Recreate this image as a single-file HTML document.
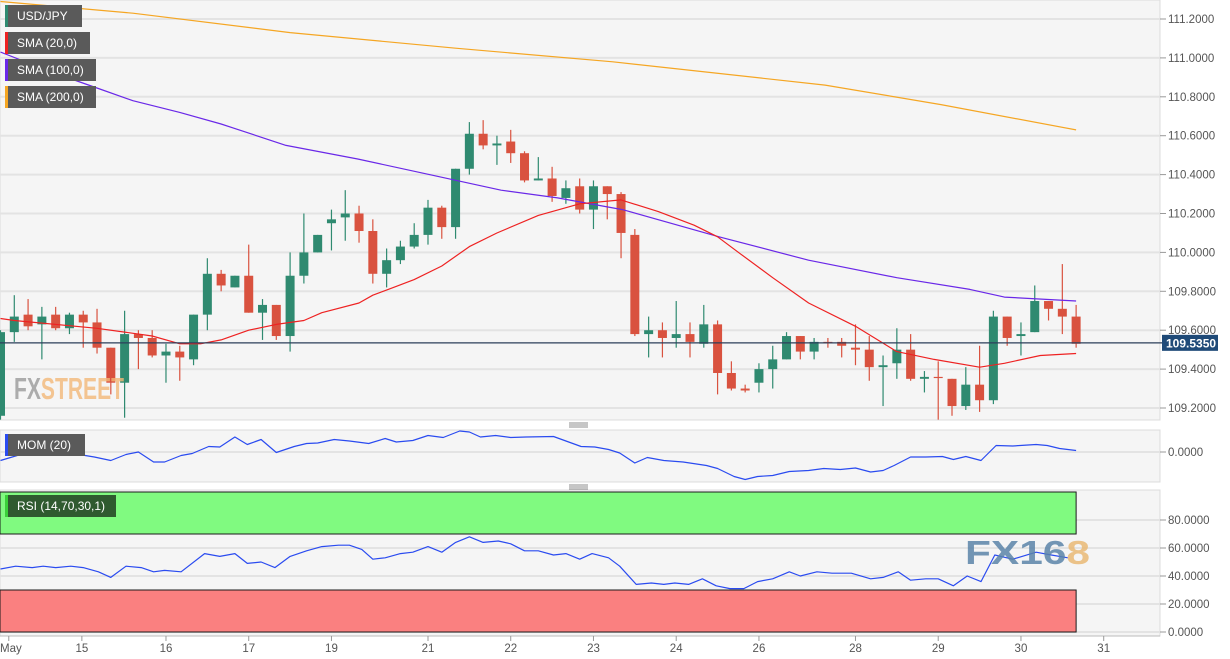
<!DOCTYPE html>
<html><head><meta charset="utf-8">
<style>
html,body{margin:0;padding:0;background:#fff;}
svg{display:block;font-family:"Liberation Sans",Arial,sans-serif;}
</style></head>
<body>
<svg id="chart" width="1230" height="659" viewBox="0 0 1230 659" xmlns="http://www.w3.org/2000/svg">
<rect x="0" y="0" width="1230" height="659" fill="#ffffff"/>
<rect x="0" y="0" width="1160" height="420" fill="#f5f5f5" stroke="#dcdcdc"/>
<rect x="0" y="430" width="1160" height="52" fill="#f5f5f5" stroke="#dcdcdc"/>
<rect x="0" y="490" width="1160" height="146" fill="#f5f5f5" stroke="#dcdcdc"/>
<g id="grid"></g>
<g id="marks"></g>
<g>
<text x="14" y="399" font-size="31" font-weight="bold" fill="#9a9a9a" fill-opacity="0.8" textLength="110" lengthAdjust="spacingAndGlyphs">FX<tspan fill="#f2b878">STREET</tspan></text>
</g>
<g>
<text x="965" y="564" font-size="33" font-weight="bold" fill="#5b84a8" fill-opacity="0.85" textLength="125" lengthAdjust="spacingAndGlyphs">FX16<tspan fill="#e9b874">8</tspan></text>
</g>
<g id="legend"></g>
<g id="axes"></g>
</svg>
<script>
// ---------- data ----------
const candleOpen  = [109.16,109.59,109.68,109.63,109.68,109.61,109.68,109.64,109.51,109.33,109.58,109.56,109.47,109.49,109.45,109.68,109.89,109.82,109.88,109.69,109.73,109.57,109.88,110.00,110.15,110.18,110.20,110.11,109.89,109.96,110.03,110.09,110.23,110.13,110.43,110.61,110.55,110.57,110.51,110.37,110.38,110.28,110.34,110.22,110.34,110.30,110.09,109.58,109.60,109.56,109.58,109.53,109.63,109.38,109.30,109.33,109.40,109.45,109.57,109.49,109.54,109.54,109.51,109.50,109.41,109.43,109.50,109.35,109.36,109.35,109.21,109.32,109.24,109.67,109.57,109.59,109.75,109.71,109.67];
const candleHigh  = [109.60,109.78,109.76,109.72,109.72,109.69,109.70,109.71,109.51,109.70,109.60,109.60,109.53,109.52,109.68,109.97,109.91,109.88,110.04,109.76,109.73,110.00,110.20,110.09,110.22,110.32,110.24,110.17,110.02,110.06,110.15,110.27,110.24,110.43,110.67,110.68,110.60,110.63,110.52,110.49,110.44,110.37,110.38,110.37,110.34,110.31,110.12,109.67,109.64,109.75,109.64,109.73,109.65,109.44,109.32,109.43,109.52,109.59,109.57,109.56,109.56,109.56,109.63,109.57,109.47,109.61,109.58,109.39,109.44,109.35,109.41,109.52,109.70,109.67,109.64,109.83,109.75,109.94,109.73];
const candleLow   = [109.14,109.54,109.60,109.45,109.60,109.58,109.51,109.48,109.27,109.15,109.40,109.46,109.33,109.34,109.42,109.60,109.80,109.82,109.69,109.55,109.55,109.49,109.84,110.00,110.01,110.06,110.05,109.84,109.82,109.94,110.02,110.04,110.07,110.07,110.40,110.53,110.45,110.46,110.36,110.37,110.26,110.25,110.20,110.12,110.17,109.97,109.57,109.46,109.46,109.51,109.46,109.51,109.27,109.29,109.28,109.28,109.30,109.45,109.45,109.45,109.51,109.46,109.42,109.34,109.21,109.35,109.34,109.28,109.14,109.16,109.19,109.18,109.22,109.52,109.47,109.59,109.65,109.58,109.51];
const candleClose = [109.59,109.67,109.62,109.67,109.61,109.68,109.64,109.51,109.33,109.58,109.56,109.47,109.49,109.46,109.68,109.89,109.83,109.88,109.69,109.73,109.57,109.88,110.00,110.09,110.17,110.20,110.11,109.89,109.96,110.03,110.09,110.23,110.13,110.43,110.61,110.55,110.56,110.51,110.37,110.38,110.29,110.33,110.22,110.34,110.30,110.10,109.58,109.60,109.56,109.58,109.54,109.63,109.38,109.30,109.29,109.40,109.45,109.57,109.49,109.54,109.535,109.52,109.50,109.41,109.42,109.50,109.35,109.36,109.355,109.21,109.32,109.24,109.67,109.56,109.58,109.75,109.71,109.67,109.53];

const sma20Idx = [0,1,7,9,11,13,14.5,16,18,20,22,23.3,26,27,28.5,30,32,34,36,39,42,45,47.7,50.3,52,53.7,56,58.6,62,65,67.7,71,72.8,75.4,78];
const sma20Val = [109.66,109.65,109.61,109.59,109.57,109.53,109.53,109.55,109.60,109.63,109.65,109.69,109.74,109.78,109.82,109.86,109.93,110.03,110.10,110.19,110.25,110.27,110.21,110.14,110.08,109.99,109.87,109.74,109.62,109.49,109.45,109.41,109.43,109.47,109.48];
const sma100Idx = [0,3.6,7.2,9.6,13,16,20.7,25.9,31.1,36.3,40.4,45.1,52.1,58.6,65,70.3,72.8,78];
const sma100Val = [111.03,110.93,110.84,110.78,110.72,110.66,110.55,110.48,110.40,110.32,110.28,110.22,110.08,109.96,109.87,109.81,109.77,109.75];
const sma200Idx = [0,9.6,21,33,44.4,59.8,68.2,78];
const sma200Val = [111.29,111.23,111.13,111.05,110.98,110.86,110.76,110.63];

const momIdx = [0,1.7,2.3,3.4,4.6,5.7,6.8,8.0,9.1,10.0,11.1,11.9,13.1,13.9,15.1,15.9,17.0,17.9,18.9,20.0,21.3,22.2,23.0,24.2,25.3,26.7,27.9,28.7,29.9,31.0,32.1,33.3,34.0,34.8,35.9,37.0,38.1,40.1,42.1,43.1,44.1,44.9,46.0,46.9,48.1,49.5,51.2,52.0,53.2,54.0,54.9,56.0,57.2,58.6,59.7,60.9,62.0,63.1,64.0,64.8,66.0,67.1,68.3,69.1,70.0,71.1,72.2,73.4,75.1,75.9,76.8,78.0];
const momVal = [-0.17,-0.03,0,-0.02,0.03,-0.05,-0.10,-0.17,-0.05,0,-0.20,-0.20,-0.07,-0.03,0.11,0.10,0.30,0.15,0.25,-0.01,0.11,0.17,0.18,0.25,0.22,0.17,0.27,0.20,0.23,0.33,0.29,0.42,0.40,0.30,0.33,0.29,0.30,0.31,0.11,0.10,0.05,-0.02,-0.22,-0.11,-0.17,-0.20,-0.27,-0.33,-0.49,-0.55,-0.49,-0.47,-0.39,-0.37,-0.33,-0.35,-0.32,-0.40,-0.37,-0.27,-0.10,-0.10,-0.09,-0.15,-0.09,-0.17,0.13,0.12,0.15,0.13,0.07,0.03];

const rsiIdx = [0,1.1,2.3,3.1,4.0,5.1,6.0,7.1,8.0,9.1,10.2,11.1,11.9,13.1,14.8,15.9,17.0,17.9,18.9,19.9,21.0,22.2,23.3,24.5,25.3,26.2,27.0,27.9,29.0,29.9,31.0,32.0,33.0,34.0,35.0,36.1,37.0,38.0,39.0,40.1,41.0,42.0,42.9,44.1,44.9,46.1,47.2,48.1,48.9,49.9,50.9,51.9,52.9,53.9,54.9,56.0,57.2,58.0,59.2,60.3,61.7,63.1,64.0,65.1,66.0,67.1,68.0,69.1,70.1,71.1,72.1,73.4,75.1,76.2,77.4];
const rsiVal = [45,47,46,47,46,47,46,43,39,47,46,43,44,43,56,54,56,49,50,46,54,58,61,62,62,59,52,53,56,57,61,57,64,68,64,65,63,58,58,55,56,52,56,53,47,34,35,34,35,34,38,33,31,31,36,38,43,40,43,42,42,38,39,43,37,38,38,33,40,36,55,52,57,55,53];

const priceTicks = [111.2,111.0,110.8,110.6,110.4,110.2,110.0,109.8,109.6,109.4,109.2];
const rsiTicks = [80,60,40,20,0];
const dateLabels = ["May","15","16","17","19","21","22","23","24","26","28","29","30","31"];
const dateBarIdx = [0.6,5.9,12,18,24,31,37,43,49,55,62,68,74,80];
const lastPrice = 109.535;
const rsiUpper = 70, rsiLower = 30;

// ---------- scales ----------
const SVGNS = "http://www.w3.org/2000/svg";
const xBar = i => i * 13.79 + 0.5;
const yPrice = p => 19 + (111.2 - p) * 194.5;
const yMom = v => 452 - v * 50;
const yRsi = v => 632 - v * 1.4;

function mk(tag, attrs, parent) {
  const el = document.createElementNS(SVGNS, tag);
  for (const k in attrs) el.setAttribute(k, attrs[k]);
  parent.appendChild(el);
  return el;
}
const grid = document.getElementById('grid');
const marks = document.getElementById('marks');
const axes = document.getElementById('axes');
const legend = document.getElementById('legend');

// grid lines
priceTicks.forEach(p => {
  const l = mk('line', {x1:0, x2:1160, y1:yPrice(p), y2:yPrice(p), stroke:'#e3e3e3', 'stroke-width':2}, grid);
  
  
  const t = mk('line', {x1:1160, x2:1166, y1:yPrice(p), y2:yPrice(p), stroke:'#999'}, axes);
  
  
  const tx = mk('text', {x:1168, y:yPrice(p)+4, 'font-size':11.5, fill:'#555'}, axes);
  tx.textContent = p.toFixed(4);
  
  
});
{
  const l = mk('line', {x1:0, x2:1160, y1:yMom(0), y2:yMom(0), stroke:'#e3e3e3', 'stroke-width':2}, grid);
  
  
  const t = mk('line', {x1:1160, x2:1166, y1:yMom(0), y2:yMom(0), stroke:'#999'}, axes);
  
  
  const tx = mk('text', {x:1168, y:yMom(0)+4, 'font-size':11.5, fill:'#555'}, axes);
  tx.textContent = '0.0000';
  
  
}
rsiTicks.forEach(v => {
  const l = mk('line', {x1:0, x2:1160, y1:yRsi(v), y2:yRsi(v), stroke:'#e3e3e3', 'stroke-width':2}, grid);
  
  
  const t = mk('line', {x1:1160, x2:1166, y1:yRsi(v), y2:yRsi(v), stroke:'#999'}, axes);
  
  
  const tx = mk('text', {x:1168, y:yRsi(v)+4, 'font-size':11.5, fill:'#555'}, axes);
  tx.textContent = v.toFixed(4);
  
  
});

// RSI bands
const xEnd = xBar(candleClose.length - 1);
{
  const g = mk('rect', {x:0, y:yRsi(100), width:xEnd, height:yRsi(rsiUpper)-yRsi(100), fill:'#80fa80', stroke:'#1a1a1a', 'stroke-width':1}, marks);
  
  
  const r = mk('rect', {x:0, y:yRsi(rsiLower), width:xEnd, height:yRsi(0)-yRsi(rsiLower), fill:'#fa8080', stroke:'#1a1a1a', 'stroke-width':1}, marks);
  
  
}

// candles
for (let i = 0; i < candleClose.length; i++) {
  const up = candleClose[i] >= candleOpen[i];
  const col = up ? '#2f8a70' : '#d9523f';
  const g = mk('g', {}, marks);
  
  
  const x = xBar(i);
  mk('line', {x1:x, x2:x, y1:yPrice(candleHigh[i]), y2:yPrice(candleLow[i]), stroke:col, 'stroke-width':1.2}, g);
  const top = yPrice(Math.max(candleOpen[i], candleClose[i]));
  const bot = yPrice(Math.min(candleOpen[i], candleClose[i]));
  mk('rect', {x:x-4.5, y:top, width:9, height:Math.max(1.2, bot-top), fill:col}, g);
}

function polyline(idx, val, yf, color, name, w) {
  const pts = idx.map((ix, k) => xBar(ix).toFixed(1) + ',' + yf(val[k]).toFixed(1)).join(' ');
  const p = mk('polyline', {points:pts, fill:'none', stroke:color, 'stroke-width':w || 1.2, 'stroke-linejoin':'round'}, marks);
  
  
}
polyline(sma200Idx, sma200Val, yPrice, '#f5a623', 'sma-200-line');
polyline(sma100Idx, sma100Val, yPrice, '#6a28e8', 'sma-100-line');
polyline(sma20Idx, sma20Val, yPrice, '#ee2222', 'sma-20-line');
polyline(momIdx, momVal, yMom, '#2a4bf0', 'mom-line');
polyline(rsiIdx, rsiVal, yRsi, '#2a4bf0', 'rsi-line');

// last price line + tag
{
  const l = mk('line', {x1:0, x2:1162, y1:yPrice(lastPrice), y2:yPrice(lastPrice), stroke:'#2c3e5a', 'stroke-width':1.3}, marks);
  
  
  const r = mk('rect', {x:1162, y:yPrice(lastPrice)-8, width:56, height:16, fill:'#1f4a78'}, axes);
  
  
  const t = mk('text', {x:1166, y:yPrice(lastPrice)+4.5, 'font-size':12, 'font-weight':'bold', fill:'#fff'}, axes);
  t.textContent = lastPrice.toFixed(4);
  
  
}

// x axis
{
  const ax = mk('line', {x1:0, x2:1160, y1:636, y2:636, stroke:'#bbb'}, axes);
  
  
}
dateLabels.forEach((d, k) => {
  const x = xBar(dateBarIdx[k]);
  const t = mk('line', {x1:x, x2:x, y1:636, y2:641, stroke:'#999'}, axes);
  
  
  const tx = mk('text', {x:d === 'May' ? 0 : x, y:652, 'font-size':11.5, fill:'#555', 'text-anchor': d === 'May' ? 'start' : 'middle'}, axes);
  tx.textContent = d;
  
  
});

// panel separators
[425, 487].forEach(y => {
  const g = mk('g', {}, axes);
  
  
  [-2, 0, 2].forEach(dy => mk('line', {x1:569, x2:588, y1:y+dy, y2:y+dy, stroke:'#666', 'stroke-width':0.8}, g));
});

// legend boxes
const legendItems = [
  {label:'USD/JPY', color:'#2f8a70', y:5, w:77},
  {label:'SMA (20,0)', color:'#ee2222', y:32, w:85},
  {label:'SMA (100,0)', color:'#6a28e8', y:59, w:91},
  {label:'SMA (200,0)', color:'#f5a623', y:86, w:91},
  {label:'MOM (20)', color:'#2a4bf0', y:434, w:80, bg:'#5a5a5a'},
  {label:'RSI (14,70,30,1)', color:'#3ad03a', y:495, w:111, bg:'#2f5a2f'}
];
legendItems.forEach(it => {
  const g = mk('g', {}, legend);
  
  
  mk('rect', {x:5, y:it.y, width:it.w, height:22, fill:it.bg || '#5a5a5a'}, g);
  mk('rect', {x:5, y:it.y, width:3, height:22, fill:it.color}, g);
  const t = mk('text', {x:17, y:it.y+15, 'font-size':12, fill:'#fff'}, g);
  t.textContent = it.label;
});
</script>
</body></html>
